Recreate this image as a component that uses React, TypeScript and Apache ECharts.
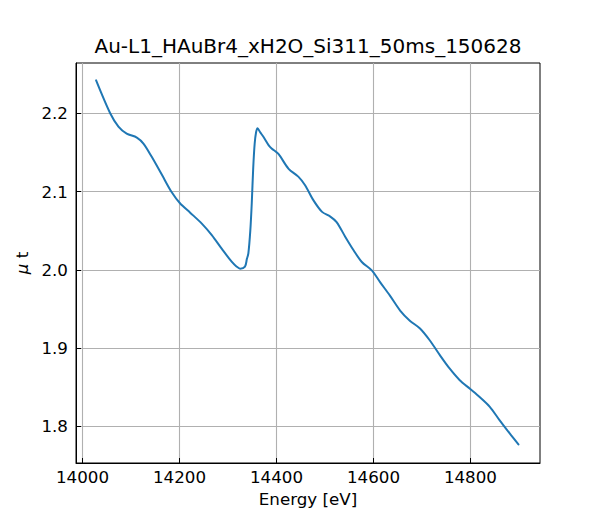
import React, { useEffect, useRef } from "react";
import * as echarts from "echarts";

const energy = [
  14028, 14057, 14074, 14091, 14112, 14126, 14143, 14164, 14184, 14201, 14222,
  14246, 14267, 14287, 14308, 14318, 14325, 14335, 14339, 14342, 14346, 14349,
  14352, 14355, 14358, 14361, 14366, 14373, 14384, 14390, 14404, 14425, 14445,
  14459, 14476, 14494, 14511, 14524, 14542, 14559, 14576, 14597, 14614, 14634,
  14655, 14675, 14696, 14716, 14737, 14757, 14778, 14799, 14819, 14840, 14860,
  14881, 14899,
];
const mu = [
  2.242, 2.2, 2.183, 2.174, 2.169, 2.161, 2.144, 2.121, 2.099, 2.085, 2.073,
  2.059, 2.044, 2.027, 2.01, 2.004, 2.0015, 2.004, 2.014, 2.021, 2.05, 2.085,
  2.13, 2.161, 2.176, 2.181, 2.176, 2.17, 2.159, 2.155, 2.148, 2.129, 2.119,
  2.108, 2.089, 2.074, 2.068, 2.061, 2.042, 2.025, 2.01, 1.999, 1.984, 1.967,
  1.948, 1.935, 1.925, 1.91, 1.891, 1.874, 1.859, 1.848, 1.8375, 1.825, 1.808,
  1.791, 1.777,
];
const xTicks = [14000, 14200, 14400, 14600, 14800];
const yTicks = [1.8, 1.9, 2.0, 2.1, 2.2];

const FONT = "DejaVu Sans";

export default function App() {
  const chartRef = useRef<HTMLDivElement>(null);

  useEffect(() => {
    if (!chartRef.current) return;
    const chart = echarts.init(chartRef.current, undefined, { renderer: "svg" });

    const option = {
      animation: false,
      backgroundColor: "#ffffff",
      title: {
        text: "Au-L1_HAuBr4_xH2O_Si311_50ms_150628",
        left: 308,
        top: 36,
        padding: 0,
        textAlign: "center",
        textStyle: { fontFamily: FONT, fontSize: 20, fontWeight: "normal", color: "#000" },
      },
      grid: {
        left: 76,
        right: 60,
        top: 63,
        bottom: 57,
        show: true,
        borderColor: "#000",
        borderWidth: 1,
        backgroundColor: "transparent",
      },
      xAxis: {
        type: "value",
        min: 13986.5,
        max: 14943.5,
        name: "Energy [eV]",
        nameLocation: "middle",
        nameGap: 27,
        nameTextStyle: { fontFamily: FONT, fontSize: 16.7, color: "#000" },
        axisLine: { show: true, lineStyle: { color: "#000", width: 1 } },
        axisTick: {
          show: true,
          inside: true,
          length: 5,
          customValues: xTicks,
          lineStyle: { color: "#000", width: 1 },
        },
        axisLabel: {
          customValues: xTicks,
          margin: 5,
          fontFamily: FONT,
          fontSize: 16.7,
          color: "#000",
          formatter: (v: number) => String(v),
        },
        splitLine: { show: true, lineStyle: { color: "#b0b0b0", width: 1.1 } },
      },
      yAxis: {
        type: "value",
        min: 1.7532,
        max: 2.2642,
        name: "{i|\u03bc} t",
        nameLocation: "middle",
        nameRotate: 90,
        nameGap: 43,
        nameTextStyle: {
          fontFamily: FONT,
          fontSize: 16.7,
          color: "#000",
          rich: {
            i: { fontFamily: FONT, fontSize: 16.7, fontStyle: "italic", color: "#000" },
          },
        },
        axisLine: { show: true, lineStyle: { color: "#000", width: 1 } },
        axisTick: {
          show: true,
          inside: true,
          length: 5,
          customValues: yTicks,
          lineStyle: { color: "#000", width: 1 },
        },
        axisLabel: {
          customValues: yTicks,
          margin: 8,
          fontFamily: FONT,
          fontSize: 16.7,
          color: "#000",
          formatter: (v: number) => v.toFixed(1),
        },
        splitLine: { show: true, lineStyle: { color: "#b0b0b0", width: 1.1 } },
      },
      series: [
        {
          type: "line",
          data: energy.map((e, i) => [e, mu[i]]),
          showSymbol: false,
          smooth: 0.3,
          lineStyle: { color: "#1f77b4", width: 2, join: "round", cap: "round" },
        },
      ],
    };

    chart.setOption(option);
    return () => {
      chart.dispose();
    };
  }, []);

  return (
    <div
      ref={chartRef}
      style={{ position: "fixed", left: 0, top: 0, width: 600, height: 520 }}
    />
  );
}
